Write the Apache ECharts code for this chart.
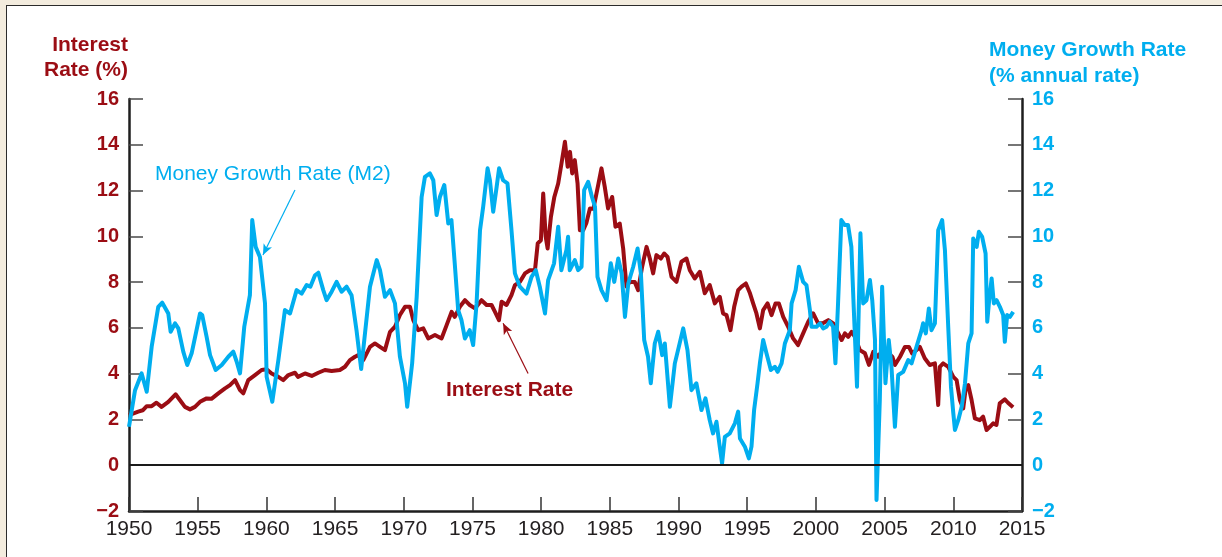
<!DOCTYPE html>
<html>
<head>
<meta charset="utf-8">
<script src="https://cdn.jsdelivr.net/npm/echarts@6/dist/echarts.min.js"></script>
<style>
html,body{margin:0;padding:0;width:1222px;height:557px;overflow:hidden;background:#f3ecde;}
#panel{position:absolute;left:6px;top:5px;width:1300px;height:600px;background:#fff;border:1.5px solid #2b2b2b;}
#chart{position:absolute;left:0;top:0;width:1222px;height:557px;}
</style>
</head>
<body>
<div id="panel"></div>
<div id="chart"></div>
<script>
// Interest rate (%) : [year, value]
var interestRate = [
[1950.0,2.19],[1950.67,2.34],[1951.0,2.4],[1951.29,2.58],[1951.65,2.58],[1952.0,2.73],[1952.37,2.55],[1952.86,2.77],[1953.39,3.1],[1953.7,2.85],[1954.07,2.55],[1954.44,2.44],[1954.8,2.55],[1955.17,2.77],[1955.65,2.92],[1956.0,2.9],[1956.5,3.14],[1956.99,3.36],[1957.35,3.5],[1957.72,3.72],[1958.08,3.28],[1958.32,3.14],[1958.68,3.72],[1959.17,3.94],[1959.65,4.16],[1960.02,4.19],[1960.38,4.01],[1960.87,3.86],[1961.23,3.72],[1961.6,3.94],[1962.08,4.04],[1962.3,3.86],[1962.81,4.01],[1963.3,3.9],[1963.78,4.04],[1964.26,4.16],[1964.75,4.12],[1965.35,4.16],[1965.72,4.3],[1966.08,4.59],[1966.45,4.74],[1966.69,4.81],[1967.05,4.59],[1967.54,5.17],[1967.9,5.32],[1968.27,5.17],[1968.63,5.03],[1969.0,5.83],[1969.36,6.05],[1969.72,6.56],[1970.09,6.92],[1970.45,6.92],[1970.69,6.34],[1971.05,5.9],[1971.42,5.98],[1971.78,5.54],[1972.27,5.69],[1972.75,5.54],[1973.12,6.12],[1973.48,6.7],[1973.71,6.48],[1974.08,6.92],[1974.45,7.21],[1974.8,7.0],[1975.18,6.85],[1975.66,7.21],[1976.03,7.0],[1976.39,7.0],[1976.64,6.7],[1976.93,6.34],[1977.12,7.14],[1977.48,7.0],[1977.84,7.43],[1978.09,7.87],[1978.45,8.01],[1978.82,8.38],[1979.18,8.52],[1979.55,8.52],[1979.75,9.69],[1979.98,9.83],[1980.15,11.87],[1980.33,9.98],[1980.47,9.47],[1980.71,10.85],[1980.96,11.72],[1981.24,12.31],[1981.48,13.18],[1981.73,14.13],[1981.93,13.04],[1982.1,13.69],[1982.26,12.75],[1982.45,13.33],[1982.65,12.31],[1982.82,10.27],[1983.06,10.27],[1983.3,10.6],[1983.55,11.22],[1983.8,11.2],[1984.15,12.24],[1984.39,12.97],[1984.63,12.16],[1984.87,11.22],[1985.17,11.72],[1985.41,10.42],[1985.72,10.56],[1985.97,9.47],[1986.21,7.8],[1986.45,8.01],[1986.81,8.01],[1987.06,7.65],[1987.35,8.67],[1987.67,9.54],[1987.91,9.03],[1988.15,8.38],[1988.39,9.18],[1988.71,9.03],[1988.95,9.25],[1989.2,9.1],[1989.49,8.23],[1989.85,8.01],[1990.21,8.89],[1990.58,9.03],[1990.82,8.52],[1991.18,8.16],[1991.55,8.45],[1991.91,7.51],[1992.27,7.87],[1992.64,7.07],[1993.0,7.36],[1993.24,6.63],[1993.49,6.56],[1993.78,5.9],[1994.05,6.92],[1994.34,7.65],[1994.59,7.8],[1994.9,7.94],[1995.2,7.51],[1995.43,7.07],[1995.67,6.63],[1995.92,5.98],[1996.16,6.78],[1996.48,7.07],[1996.77,6.56],[1997.06,7.07],[1997.3,7.07],[1997.62,6.48],[1997.98,6.05],[1998.34,5.54],[1998.7,5.25],[1999.07,5.76],[1999.44,6.27],[1999.8,6.63],[2000.16,6.2],[2000.5,6.2],[2000.9,6.34],[2001.26,6.2],[2001.63,5.76],[2001.87,5.47],[2002.11,5.76],[2002.35,5.61],[2002.6,5.83],[2002.84,5.6],[2003.2,5.03],[2003.57,4.89],[2003.86,4.38],[2004.18,4.96],[2004.54,4.74],[2004.9,5.1],[2005.27,4.89],[2005.56,4.74],[2005.75,4.38],[2006.12,4.74],[2006.48,5.17],[2006.77,5.17],[2007.0,4.89],[2007.32,5.03],[2007.56,5.17],[2007.92,4.67],[2008.29,4.38],[2008.66,4.45],[2008.9,2.63],[2009.02,4.3],[2009.26,4.45],[2009.63,4.3],[2010.0,3.86],[2010.24,3.72],[2010.48,2.85],[2010.72,2.48],[2010.92,3.43],[2011.09,3.5],[2011.33,2.85],[2011.57,2.05],[2011.93,1.97],[2012.17,2.12],[2012.42,1.54],[2012.66,1.68],[2012.9,1.83],[2013.14,1.76],[2013.38,2.7],[2013.75,2.88],[2013.98,2.73],[2014.35,2.53]
];
// Money growth rate M2 (% annual rate) : [year, value]
var moneyGrowth = [
[1950.0,1.68],[1950.44,3.28],[1950.92,4.01],[1951.29,3.21],[1951.65,5.18],[1952.13,6.92],[1952.42,7.1],[1952.86,6.63],[1953.03,5.83],[1953.35,6.2],[1953.59,5.98],[1953.95,4.96],[1954.24,4.38],[1954.56,4.89],[1955.17,6.63],[1955.33,6.56],[1955.65,5.61],[1955.9,4.81],[1956.31,4.16],[1956.75,4.38],[1957.23,4.74],[1957.59,4.96],[1957.84,4.52],[1958.08,4.01],[1958.39,6.05],[1958.8,7.43],[1958.97,10.71],[1959.22,9.54],[1959.53,9.1],[1959.9,7.07],[1960.02,3.86],[1960.43,2.77],[1960.87,4.59],[1961.35,6.78],[1961.72,6.63],[1962.2,7.65],[1962.57,7.5],[1962.93,7.87],[1963.2,7.8],[1963.54,8.3],[1963.78,8.41],[1964.14,7.65],[1964.38,7.21],[1964.75,7.58],[1965.11,8.01],[1965.47,7.58],[1965.84,7.8],[1966.2,7.43],[1966.56,5.9],[1966.9,4.2],[1967.54,7.8],[1968.03,8.96],[1968.27,8.52],[1968.63,7.36],[1969.0,7.65],[1969.36,7.07],[1969.72,4.74],[1970.09,3.58],[1970.25,2.55],[1970.61,4.45],[1970.94,7.36],[1971.3,11.72],[1971.54,12.6],[1971.9,12.75],[1972.15,12.45],[1972.39,10.93],[1972.63,11.72],[1972.95,12.24],[1973.24,10.56],[1973.47,10.71],[1973.71,8.82],[1973.96,6.78],[1974.2,6.34],[1974.45,5.54],[1974.8,5.9],[1975.05,5.25],[1975.3,7.07],[1975.55,10.27],[1975.78,11.29],[1976.1,12.97],[1976.27,12.45],[1976.51,11.07],[1976.76,12.16],[1976.94,12.97],[1977.23,12.45],[1977.55,12.31],[1977.84,10.27],[1978.09,8.38],[1978.45,7.8],[1978.93,7.5],[1979.3,8.23],[1979.61,8.52],[1979.9,7.8],[1980.28,6.63],[1980.51,8.09],[1980.94,8.82],[1981.24,10.42],[1981.47,8.52],[1981.84,9.4],[1981.96,9.98],[1982.08,8.52],[1982.45,8.96],[1982.69,8.52],[1982.94,8.67],[1983.13,12.02],[1983.42,12.38],[1983.7,11.72],[1983.92,11.29],[1984.1,8.23],[1984.39,7.65],[1984.76,7.21],[1985.07,8.82],[1985.32,8.01],[1985.61,9.03],[1985.86,8.38],[1986.1,6.48],[1986.34,7.94],[1986.7,8.67],[1987.02,9.47],[1987.26,8.38],[1987.5,5.47],[1987.78,4.74],[1987.98,3.58],[1988.27,5.32],[1988.52,5.83],[1988.81,4.81],[1989.0,5.32],[1989.37,2.55],[1989.73,4.45],[1990.02,5.17],[1990.34,5.98],[1990.65,5.03],[1990.94,3.28],[1991.3,3.58],[1991.67,2.41],[1991.96,2.92],[1992.27,1.97],[1992.51,1.39],[1992.76,1.9],[1993.0,0.81],[1993.17,0.08],[1993.37,1.24],[1993.73,1.39],[1994.1,1.83],[1994.34,2.34],[1994.47,1.17],[1994.83,0.81],[1995.12,0.3],[1995.31,0.81],[1995.5,2.41],[1995.75,3.58],[1995.92,4.45],[1996.16,5.47],[1996.4,4.89],[1996.72,4.16],[1997.01,4.3],[1997.21,4.08],[1997.5,4.45],[1997.74,5.32],[1998.1,5.9],[1998.23,7.07],[1998.52,7.65],[1998.76,8.67],[1999.07,8.01],[1999.31,7.87],[1999.56,6.78],[1999.68,6.05],[2000.04,6.05],[2000.29,6.2],[2000.53,5.98],[2000.77,6.05],[2001.0,6.27],[2001.25,6.05],[2001.42,4.45],[2001.6,6.92],[2001.85,10.71],[2002.1,10.49],[2002.34,10.49],[2002.58,9.54],[2002.75,6.92],[2002.99,3.43],[2003.24,10.13],[2003.44,7.07],[2003.68,7.21],[2003.93,8.09],[2004.1,7.21],[2004.3,5.47],[2004.41,-1.52],[2004.65,2.85],[2004.82,7.8],[2005.06,3.58],[2005.3,5.47],[2005.5,4.3],[2005.75,1.68],[2005.99,3.94],[2006.35,4.08],[2006.72,4.59],[2006.96,4.45],[2007.32,5.17],[2007.69,5.9],[2007.8,6.2],[2008.0,5.76],[2008.22,6.85],[2008.41,5.9],[2008.66,6.2],[2008.9,10.27],[2009.19,10.71],[2009.39,9.4],[2009.63,6.05],[2009.83,3.43],[2010.0,2.27],[2010.12,1.54],[2010.36,1.97],[2010.61,2.55],[2010.85,3.58],[2011.09,5.32],[2011.33,5.76],[2011.45,9.91],[2011.7,9.54],[2011.86,10.2],[2012.1,9.98],[2012.35,9.25],[2012.47,6.27],[2012.61,7.21],[2012.79,8.16],[2012.95,7.07],[2013.15,7.21],[2013.39,6.92],[2013.63,6.56],[2013.75,5.39],[2013.92,6.56],[2014.12,6.48],[2014.36,6.7]
];
var yearRange = [1950, 2015];
var valueRange = [-2, 16];
// annotation arrows: [from, to] in data coordinates
var m2Arrow = [[1962.08, 12.02], [1959.75, 9.18]];
var irArrow = [[1979.05, 4.01], [1977.23, 6.2]];

var RED = '#9b0d14', BLUE = '#00aeef', INK = '#231f20';
var FONT = '"Liberation Sans", Arial, Helvetica, sans-serif';
function fmt(v){ return v < 0 ? '\u2212' + Math.abs(v) : String(v); }

var chart = echarts.init(document.getElementById('chart'), null, {renderer:'canvas'});
var yBase = {
  type:'value', min:valueRange[0], max:valueRange[1], interval:2,
  splitLine:{show:false},
  axisLine:{show:true, onZero:false, lineStyle:{color:'#1e1e1e', width:2.5}},
  axisTick:{show:true, inside:true, length:14, lineStyle:{color:'#4a4a4a', width:1.5}}
};
chart.setOption({
  animation:false,
  backgroundColor:'transparent',
  grid:{left:129, right:200, top:99, bottom:46, containLabel:false},
  xAxis:{
    type:'value', min:yearRange[0], max:yearRange[1], interval:5,
    splitLine:{show:false},
    axisLine:{onZero:false, lineStyle:{color:'#1e1e1e', width:2.5}},
    axisTick:{inside:true, length:14, lineStyle:{color:'#333', width:1.5}},
    axisLabel:{fontSize:21, color:INK, margin:8, fontFamily:FONT, formatter:function(v){return String(v);}, showMinLabel:true, showMaxLabel:true}
  },
  yAxis:[
    Object.assign({}, yBase, {position:'left',
      axisLabel:{fontSize:20, fontWeight:'bold', color:RED, margin:10, fontFamily:FONT, formatter:fmt}}),
    Object.assign({}, yBase, {position:'right',
      axisLabel:{fontSize:20, fontWeight:'bold', color:BLUE, margin:10, fontFamily:FONT, formatter:fmt}})
  ],
  series:[
    {name:'Interest Rate', type:'line', data:interestRate, yAxisIndex:0, showSymbol:false,
     lineStyle:{color:RED, width:4, join:'round'}, z:2,
     markLine:{silent:true, animation:false, label:{show:false}, symbol:'none',
       data:[
         {yAxis:0, lineStyle:{color:'#1a1a1a', width:2.2, type:'solid'}, symbol:'none'},
         [{coord:irArrow[0], symbol:'none', lineStyle:{color:RED, width:1.2, type:'solid'}},
          {coord:irArrow[1], symbol:'arrow', symbolSize:[7,11]}]
       ]}
    },
    {name:'Money Growth Rate (M2)', type:'line', data:moneyGrowth, yAxisIndex:1, showSymbol:false,
     lineStyle:{color:BLUE, width:4, join:'round'}, z:3,
     markLine:{silent:true, animation:false, label:{show:false}, symbol:'none',
       data:[
         [{coord:m2Arrow[0], symbol:'none', lineStyle:{color:BLUE, width:1.2, type:'solid'}},
          {coord:m2Arrow[1], symbol:'arrow', symbolSize:[7,11]}]
       ]}
    }
  ],
  graphic:[
    {type:'text', x:128, y:45, style:{text:'Interest', fill:RED, fontSize:21, fontWeight:'bold', fontFamily:FONT, align:'right', verticalAlign:'middle'}},
    {type:'text', x:128, y:70, style:{text:'Rate (%)', fill:RED, fontSize:21, fontWeight:'bold', fontFamily:FONT, align:'right', verticalAlign:'middle'}},
    {type:'text', x:989, y:50, style:{text:'Money Growth Rate', fill:BLUE, fontSize:21, fontWeight:'bold', fontFamily:FONT, align:'left', verticalAlign:'middle'}},
    {type:'text', x:989, y:76, style:{text:'(% annual rate)', fill:BLUE, fontSize:21, fontWeight:'bold', fontFamily:FONT, align:'left', verticalAlign:'middle'}},
    {type:'text', x:155, y:174, style:{text:'Money Growth Rate (M2)', fill:BLUE, fontSize:21, fontFamily:FONT, align:'left', verticalAlign:'middle'}},
    {type:'text', x:446, y:390, style:{text:'Interest Rate', fill:RED, fontSize:21, fontWeight:'bold', fontFamily:FONT, align:'left', verticalAlign:'middle'}}
  ]
});
</script>
</body>
</html>
